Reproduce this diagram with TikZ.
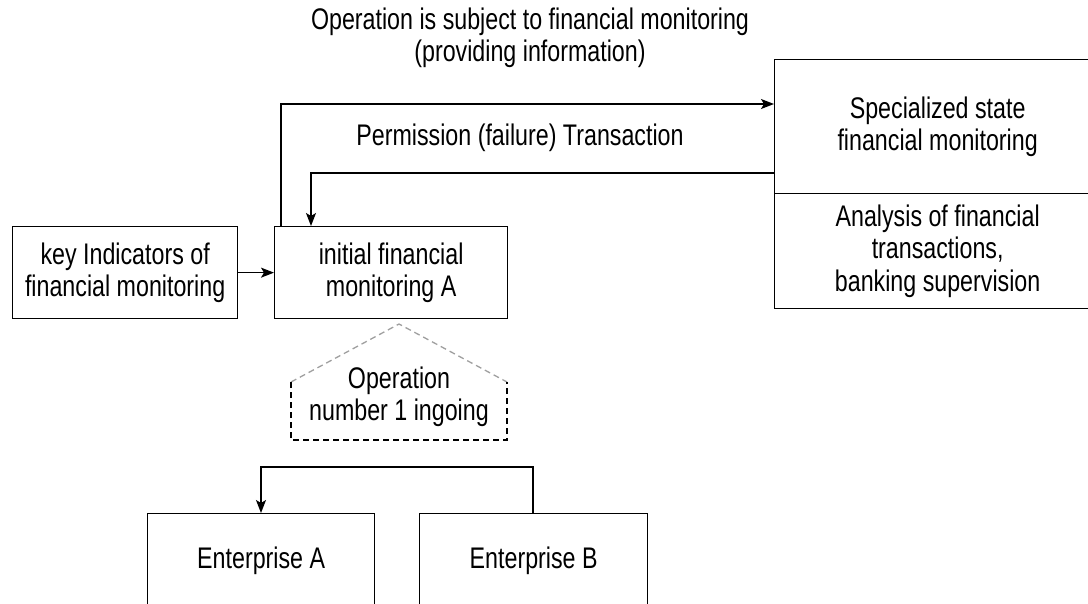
\documentclass[tikz,border=0pt]{standalone}
\usepackage{fontspec}
\setmainfont{Liberation Sans}[FakeStretch=0.78]
\usetikzlibrary{arrows.meta,calc,positioning}

\begin{document}
\begin{tikzpicture}[
			x=1pt,y=-1pt,
			line width=1.3pt,
			every node/.style={font=\fontsize{29.8}{32.5}\selectfont,align=center,inner sep=0pt},
			box/.style={draw,anchor=north west},
			link/.style={-{Stealth[length=13pt,width=10pt,inset=3pt]}},
			roof/.style={gray!75,dash pattern=on 6pt off 4pt},
			wall/.style={black,dash pattern=on 6pt off 4pt},
		]
		
		\useasboundingbox (0,0) rectangle (1088,603);
		\clip (0,0) rectangle (1088,603);
		
		\node[box,minimum width=225pt,minimum height=92pt] (indicators) at (12,226) {key Indicators of\\financial monitoring};
		\node[box,minimum width=233pt,minimum height=92pt] (initial) at (274,226) {initial financial\\monitoring A};
		\node[box,minimum width=326pt,minimum height=134pt] (state) at (774,59) {Specialized state\\financial monitoring};
		\node[box,minimum width=326pt,minimum height=115pt] (analysis) at (774,193) {Analysis of financial\\transactions,\\banking supervision};
		\node[box,minimum width=227pt,minimum height=94pt] (entA) at (147,513) {Enterprise A};
		\node[box,minimum width=228pt,minimum height=94pt] (entB) at (419,513) {Enterprise B};
		
		\node (subject) at (530,38) {Operation is subject to financial monitoring\\(providing information)};
		\node (permission) at (520,138) {Permission (failure) Transaction};
		
		% pentagon
		\node (operation) at (399,397) {Operation\\number 1 ingoing};
		\coordinate (apex) at (399,324);
		\coordinate (roofL) at (291,382);
		\coordinate (roofR) at (507,382);
		\coordinate (baseL) at (291,440);
		\coordinate (baseR) at (507,440);
		\draw[roof] (roofL) -- (apex) -- (roofR);
		\draw[wall] (roofL) -- (baseL) -- (baseR) -- (roofR);
		
		\coordinate (1) at (281,104);
		\coordinate (2) at (311,173);
		\coordinate (3) at (533,467);
		\coordinate (4) at (261,467);
		
		\draw[link] (indicators) -- (initial);
		\draw[link] (initial.north west -| 1) -- (1) -- (1 -| state.west);
		\draw[link] (2 -| state.west) -- (2) -- (2 |- initial.north);
		\draw[link] (3 |- entB.north) -- (3) -- (4) -- (4 |- entA.north);
		
	\end{tikzpicture}
\end{document}
